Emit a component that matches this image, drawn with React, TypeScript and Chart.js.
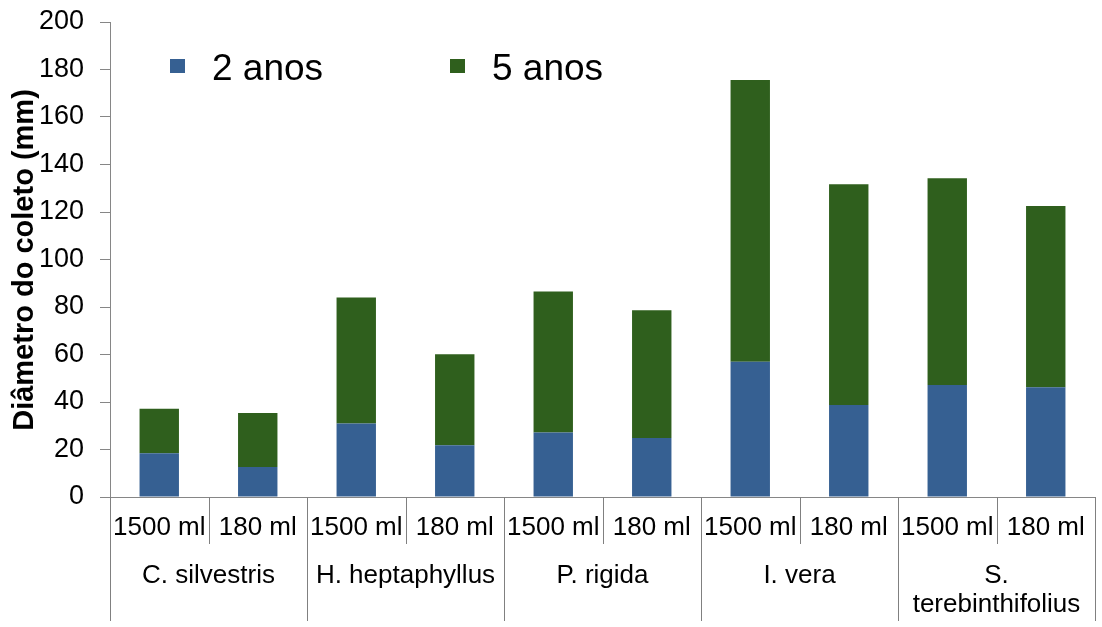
import React, { useEffect, useRef } from 'react';
import { Chart, registerables } from 'chart.js';

Chart.register(...registerables);

const volumes = ['1500 ml', '180 ml', '1500 ml', '180 ml', '1500 ml', '180 ml', '1500 ml', '180 ml', '1500 ml', '180 ml'];
const species: string[][] = [['C. silvestris'], ['H. heptaphyllus'], ['P. rigida'], ['I. vera'], ['S.', 'terebinthifolius']];
const anos2 = [18.4, 12.6, 30.9, 21.8, 27.2, 24.8, 57.0, 38.7, 47.2, 46.2];
const anos5 = [18.8, 22.8, 53.1, 38.3, 59.3, 53.8, 118.6, 93.0, 87.0, 76.3];
const seriesNames = ['2 anos', '5 anos'];
const seriesColors = ['#366092', '#2F5F1D'];
const yMin = 0;
const yMax = 200;
const yStep = 20;
const yTitle = 'Diâmetro do coleto (mm)';

const FONT = '"Liberation Sans", Arial, sans-serif';

const customDraw = {
  id: 'customDraw',
  afterDraw(chart: any) {
    const { ctx, chartArea, scales } = chart;
    const x = scales.x;
    const bottom = chartArea.bottom;
    ctx.save();
    const half = (x.getPixelForValue(1) - x.getPixelForValue(0)) / 2;
    // separators
    ctx.strokeStyle = '#808080';
    ctx.lineWidth = 1;
    for (let i = 0; i <= volumes.length; i++) {
      const bx = i < volumes.length ? x.getPixelForValue(i) - half : x.getPixelForValue(volumes.length - 1) + half;
      const px = Math.round(bx) + 0.5;
      const isGroup = i % 2 === 0;
      ctx.beginPath();
      ctx.moveTo(px, bottom);
      ctx.lineTo(px, bottom + (isGroup ? 124 : 47));
      ctx.stroke();
    }
    // volume labels
    ctx.fillStyle = '#000';
    ctx.textAlign = 'center';
    ctx.textBaseline = 'middle';
    ctx.font = `26px ${FONT}`;
    volumes.forEach((v, i) => {
      ctx.fillText(v, x.getPixelForValue(i), bottom + 31);
    });
    // species labels
    species.forEach((lines, g) => {
      const cx = (x.getPixelForValue(2 * g) + x.getPixelForValue(2 * g + 1)) / 2;
      lines.forEach((ln, k) => {
        ctx.fillText(ln, cx, bottom + 79 + k * 29);
      });
    });
    // legend
    const legendX = [170, 450];
    seriesNames.forEach((name, i) => {
      ctx.fillStyle = seriesColors[i];
      ctx.fillRect(legendX[i], 59, 15, 14);
      ctx.fillStyle = '#000';
      ctx.textAlign = 'left';
      ctx.textBaseline = 'alphabetic';
      ctx.font = `37px ${FONT}`;
      ctx.fillText(name, legendX[i] + 42, 80);
    });
    // y title
    ctx.translate(33, 260);
    ctx.rotate(-Math.PI / 2);
    ctx.textAlign = 'center';
    ctx.textBaseline = 'alphabetic';
    ctx.font = `bold 29px ${FONT}`;
    ctx.fillStyle = '#000';
    ctx.fillText(yTitle, 0, 0);
    ctx.restore();
  },
};

export default function App() {
  const canvasRef = useRef<HTMLCanvasElement | null>(null);

  useEffect(() => {
    if (!canvasRef.current) return;
    const chart = new Chart(canvasRef.current, {
      type: 'bar',
      data: {
        labels: volumes.map((v, i) => `${v} ${i}`),
        datasets: [
          { label: seriesNames[0], data: anos2, backgroundColor: seriesColors[0], borderWidth: 0 },
          { label: seriesNames[1], data: anos5, backgroundColor: seriesColors[1], borderWidth: 0 },
        ],
      },
      options: {
        responsive: false,
        animation: false,
        layout: { padding: { top: 22, right: 7, left: 0, bottom: 0 } },
        datasets: { bar: { categoryPercentage: 1, barPercentage: 0.4 } },
        plugins: { legend: { display: false }, tooltip: { enabled: false } },
        scales: {
          x: {
            stacked: true,
            grid: { display: false },
            border: { display: true, color: '#868686', width: 1 },
            ticks: { display: false },
            afterFit: (scale: any) => { scale.height = 130; },
          },
          y: {
            stacked: true,
            min: yMin,
            max: yMax,
            ticks: {
              stepSize: yStep,
              color: '#000',
              padding: 16,
              font: { family: FONT, size: 27 },
            },
            grid: { display: true, drawOnChartArea: false, drawTicks: true, tickLength: 10, color: '#868686' },
            border: { display: true, color: '#868686', width: 1 },
            afterFit: (scale: any) => {
              scale.width = 110;
              scale.paddingTop = 0;
              scale.paddingBottom = 0;
            },
          },
        },
      },
      plugins: [customDraw],
    });
    return () => chart.destroy();
  }, []);

  return (
    <div style={{ position: 'fixed', left: 0, top: 0, width: 1102, height: 627, background: '#fff' }}>
      <canvas ref={canvasRef} width={1102} height={627} />
    </div>
  );
}
